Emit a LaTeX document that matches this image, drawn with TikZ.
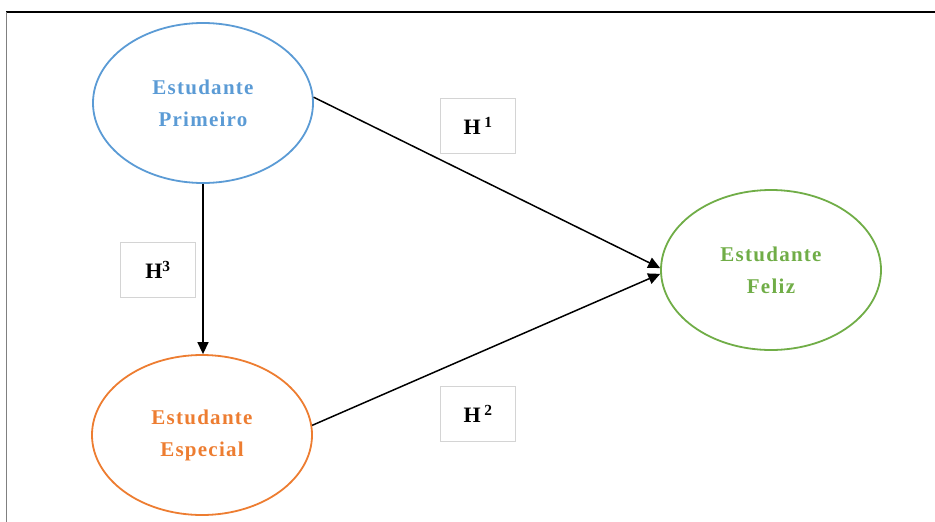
\documentclass[tikz,border=0pt]{standalone}
\usepackage{fontspec}
\setmainfont{Liberation Serif}
\usetikzlibrary{shapes.geometric,arrows.meta}
\definecolor{cblue}{HTML}{5B9BD5}
\definecolor{corange}{HTML}{ED7D31}
\definecolor{cgreen}{HTML}{70AD47}
\definecolor{boxgray}{HTML}{D4D4D4}
\begin{document}
\begin{tikzpicture}[x=1pt,y=-1pt,
  construct/.style={ellipse, draw=#1, text=#1, line width=1.8pt,
    minimum width=220pt, minimum height=160pt, inner sep=0pt,
    align=center, font=\bfseries\fontsize{21}{32}\selectfont\addfontfeature{LetterSpace=6}},
  hbox/.style={draw=boxgray, line width=0.8pt, minimum width=75pt,
    minimum height=55pt, inner sep=0pt, font=\bfseries\fontsize{22}{24}\selectfont},
  path/.style={line width=1.5pt, -{Triangle[length=12pt,width=11pt]}}
]
\useasboundingbox (0,0) rectangle (935,522);
% frame
\coordinate (tl) at (6,12);
\coordinate (tr) at (935,12);
\coordinate (bl) at (6,522);
\draw[line width=1.5pt] (tl) -- (tr);
\draw[gray, line width=0.6pt] (tl) -- (bl);
% constructs
\node[construct=cblue] (p) at (203,103) {Estudante\\Primeiro};
\node[construct=corange] (e) at (202,435) {Estudante\\Especial};
\node[construct=cgreen] (f) at (771,270) {Estudante\\Feliz};
% hypothesis labels
\node[hbox] (h1) at (478,126) {H\,\textsuperscript{1}};
\node[hbox] (h3) at (158,270) {H\textsuperscript{3}};
\node[hbox] (h2) at (478,414) {H\,\textsuperscript{2}};
% paths
\draw[path] (p.3) -- (f.179);
\draw[path] (e.5) -- (f.182);
\draw[path] (p.south) -- (p.south |- e.north);
\end{tikzpicture}
\end{document}
